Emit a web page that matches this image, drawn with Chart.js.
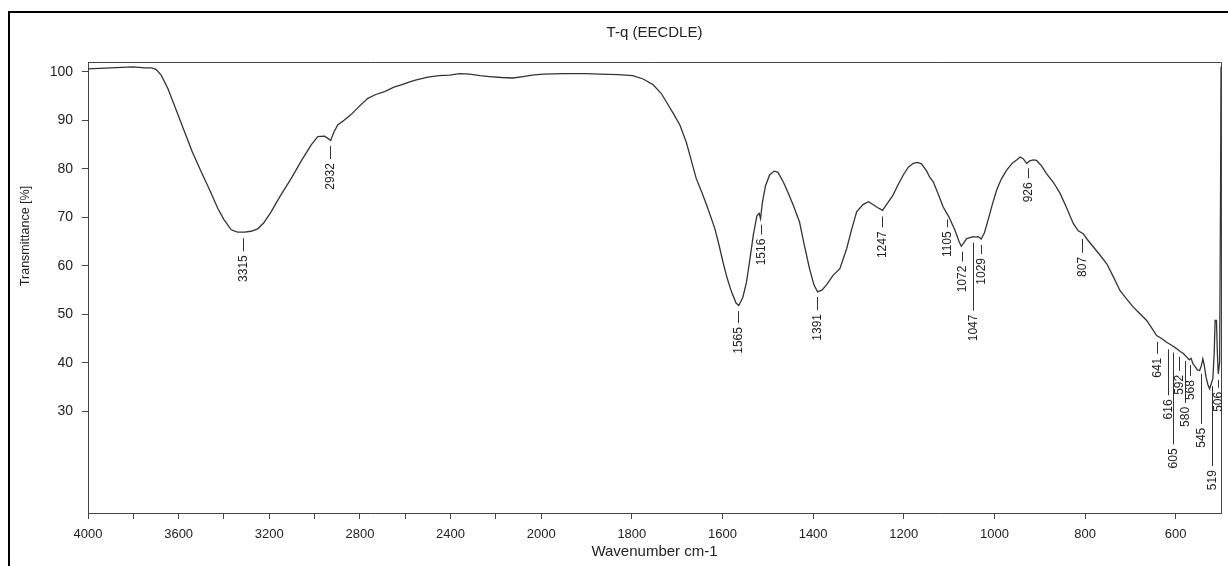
<!DOCTYPE html>
<html>
<head>
<meta charset="utf-8">
<script src="https://cdn.jsdelivr.net/npm/chart.js@4"></script>
<style>
  html, body { margin: 0; padding: 0; background: #fff; overflow: hidden; }
  #wrap { position: relative; width: 1228px; height: 566px; }
  #frame { position: absolute; left: 8px; top: 11px; width: 1300px; height: 700px;
           border: 2px solid #000; box-sizing: border-box; pointer-events: none; }
  canvas { position: absolute; left: 0; top: 0; }
</style>
</head>
<body>
<div id="wrap">
  <canvas id="grafico" width="1228" height="566"></canvas>
  <div id="frame"></div>
</div>
<script>
// Espectro IR (numero de onda cm-1 / transmitancia %)
const wavenumber = [
  4000, 3950, 3900, 3850, 3800, 3750, 3720, 3700, 3677, 3648, 3610, 3574, 3540, 3501, 3460, 3427,
  3400, 3368, 3340, 3309, 3280, 3251, 3225, 3192, 3150, 3103, 3060, 3015, 2986, 2956, 2940, 2929,
  2915, 2898, 2870, 2838, 2800, 2765, 2730, 2691, 2650, 2618, 2580, 2551, 2500, 2450, 2404, 2360,
  2316, 2270, 2228, 2175, 2125, 2080, 2040, 1996, 1950, 1900, 1871, 1830, 1798, 1775, 1753, 1735,
  1724, 1708, 1694, 1680, 1672, 1658, 1645, 1635, 1617, 1607, 1599, 1590, 1580, 1570, 1564, 1555,
  1547, 1540, 1532, 1524, 1519, 1516, 1512, 1505, 1496, 1486, 1478, 1466, 1455, 1444, 1430, 1420,
  1408, 1398, 1390, 1380, 1371, 1356, 1341, 1326, 1315, 1304, 1290, 1278, 1268, 1258, 1247, 1235,
  1224, 1212, 1201, 1190, 1179, 1170, 1161, 1150, 1143, 1135, 1124, 1113, 1105, 1100, 1087, 1078,
  1073, 1067, 1061, 1054, 1047, 1040, 1036, 1029, 1022, 1014, 1005, 995, 985, 973, 960, 951,
  943, 936, 929, 922, 914, 907, 896, 885, 870, 855, 840, 826, 815, 804, 795, 782,
  768, 752, 738, 723, 708, 694, 680, 664, 652, 642, 631, 620, 609, 598, 590, 583,
  576, 570, 566, 562, 557, 552, 547, 543, 540, 537, 533, 529, 525, 521, 518, 515,
  513, 510, 508, 506, 503, 501, 500
];
const transmittance = [
  100.6, 100.7, 100.8, 100.9, 101.0, 100.8, 100.8, 100.5, 99.3, 96.6, 92.0, 87.6, 83.5, 79.4, 75.3, 71.8,
  69.5, 67.4, 66.9, 66.9, 67.1, 67.6, 68.8, 71.1, 74.5, 78.0, 81.5, 84.9, 86.6, 86.7, 86.2, 85.8,
  87.5, 89.0, 90.0, 91.2, 93.0, 94.5, 95.3, 95.9, 96.8, 97.3, 97.9, 98.3, 98.9, 99.2, 99.3, 99.6,
  99.5, 99.2, 99.0, 98.8, 98.7, 99.0, 99.3, 99.5, 99.6, 99.6, 99.5, 99.4, 99.2, 98.5, 97.3, 95.5,
  93.8, 91.3, 89.0, 85.5, 82.8, 78.0, 75.0, 72.5, 67.7, 64.0, 60.8, 57.5, 54.6, 52.3, 51.8, 53.5,
  56.6, 61.0, 66.3, 70.3, 70.8, 69.7, 73.0, 76.5, 78.7, 79.5, 79.3, 77.3, 75.0, 72.5, 69.0, 64.5,
  59.4, 56.0, 54.6, 55.0, 56.0, 58.0, 59.4, 63.5, 67.5, 71.1, 72.6, 73.2, 72.6, 72.0, 71.4, 73.0,
  74.5, 76.8, 78.7, 80.3, 81.1, 81.3, 81.0, 79.6, 78.3, 77.3, 74.8, 72.1, 70.8, 70.0, 67.3, 65.0,
  64.0, 64.8, 65.6, 65.8, 66.0, 65.9, 66.0, 65.5, 66.8, 69.4, 72.5, 75.6, 77.8, 79.7, 81.2, 81.8,
  82.4, 82.0, 81.1, 81.6, 81.8, 81.7, 80.6, 79.0, 77.2, 74.9, 71.8, 68.7, 67.2, 66.6, 65.4, 63.9,
  62.3, 60.4, 57.8, 54.9, 53.1, 51.5, 50.2, 48.7, 47.0, 45.6, 45.0, 44.2, 43.6, 42.9, 42.3, 41.9,
  41.2, 40.6, 40.9, 39.8, 39.2, 38.5, 38.4, 39.5, 40.8, 39.5, 37.0, 35.5, 34.6, 35.8, 36.7, 42.0,
  48.7, 48.7, 42.0, 37.7, 40.0, 75.0, 101.0
];

// Picos marcados y largo de su linea guia
const peakWn   = [3315, 2932, 1565, 1516, 1391, 1247, 1105, 1072, 1047, 1029, 926, 807, 641, 616, 605, 592, 580, 568, 545, 519, 506];
const peakLead = [13, 13, 12, 10, 13, 11, 8, 10, 68, 9, 10, 14, 12, 46, 92, 14, 42, 11, 50, 80, 8];

// Marcas del eje x (cm-1) y las que llevan numero
const xTickWn  = [4000, 3800, 3600, 3400, 3200, 3000, 2800, 2600, 2400, 2200, 2000, 1800, 1600, 1400, 1200, 1000, 800, 600];
const xLabelWn = [4000, 3600, 3200, 2800, 2400, 2000, 1800, 1600, 1400, 1200, 1000, 800, 600];
const yTicks   = [30, 40, 50, 60, 70, 80, 90, 100];

const titulo = 'T-q (EECDLE)';
const tituloX = 'Wavenumber cm-1';
const tituloY = 'Transmittance [%]';

// Escala partida: bajo 2000 cm-1 el eje va al doble
function aPos(wn) {
  return wn >= 2000 ? 4000 - wn : 2000 + 2 * (2000 - wn);
}
function aWn(u) {
  return u <= 2000 ? 4000 - u : 2000 - (u - 2000) / 2;
}
function curvaEn(wn) {
  for (let i = 0; i < wavenumber.length - 1; i++) {
    const a = wavenumber[i], b = wavenumber[i + 1];
    if (wn <= a && wn >= b) {
      const t = (a - wn) / (a - b);
      return transmittance[i] + t * (transmittance[i + 1] - transmittance[i]);
    }
  }
  return transmittance[transmittance.length - 1];
}

const FONT = "'Liberation Sans', Arial, sans-serif";

// Titulos, marco y etiquetas de picos
const decoracion = {
  id: 'decoracion',
  afterDatasetsDraw(chart) {
    const ctx = chart.ctx;
    const xs = chart.scales.x, ys = chart.scales.y;
    const area = chart.chartArea;
    ctx.save();
    ctx.strokeStyle = '#444';
    ctx.lineWidth = 1;
    ctx.beginPath();
    ctx.moveTo(area.left, area.top + 0.5);
    ctx.lineTo(area.right + 0.5, area.top + 0.5);
    ctx.lineTo(area.right + 0.5, area.bottom);
    ctx.stroke();

    ctx.fillStyle = '#222';
    ctx.textAlign = 'center';
    ctx.textBaseline = 'middle';
    ctx.font = '15px ' + FONT;
    ctx.fillText(titulo, (area.left + area.right) / 2, 33);
    ctx.fillText(tituloX, (area.left + area.right) / 2, 552);
    ctx.save();
    ctx.translate(26, 236);
    ctx.rotate(-Math.PI / 2);
    ctx.font = '12.5px ' + FONT;
    ctx.fillText(tituloY, 0, 0);
    ctx.restore();

    ctx.font = '12px ' + FONT;
    ctx.strokeStyle = '#333';
    ctx.fillStyle = '#222';
    peakWn.forEach((wn, i) => {
      const x = Math.round(xs.getPixelForValue(aPos(wn))) + 0.5;
      const y = ys.getPixelForValue(curvaEn(wn));
      const y0 = y + 6, y1 = y0 + peakLead[i];
      ctx.beginPath();
      ctx.moveTo(x, y0);
      ctx.lineTo(x, y1);
      ctx.stroke();
      ctx.save();
      ctx.translate(x, y1 + 4);
      ctx.rotate(-Math.PI / 2);
      ctx.textAlign = 'right';
      ctx.textBaseline = 'middle';
      ctx.fillText(String(wn), 0, 0);
      ctx.restore();
    });
    ctx.restore();
  }
};

window.onload = function () {
  const ctx = document.getElementById('grafico').getContext('2d');
  const puntos = wavenumber.map((wn, i) => ({ x: aPos(wn), y: transmittance[i] }));

  new Chart(ctx, {
    type: 'line',
    data: {
      datasets: [{
        data: puntos,
        borderColor: '#333',
        borderWidth: 1.3,
        pointRadius: 0,
        fill: false,
        tension: 0
      }]
    },
    options: {
      responsive: false,
      animation: false,
      devicePixelRatio: 1,
      layout: { padding: { left: 0, top: 62, right: 7, bottom: 0 } },
      plugins: {
        legend: { display: false },
        tooltip: { enabled: false },
        title: { display: false }
      },
      scales: {
        x: {
          type: 'linear',
          min: 0,
          max: aPos(500),
          afterBuildTicks: s => { s.ticks = xTickWn.map(wn => ({ value: aPos(wn) })); },
          afterFit: s => { s.height = 53; },
          grid: { drawOnChartArea: false, drawTicks: true, tickLength: 6, color: '#444' },
          border: { display: true, color: '#444', width: 1 },
          ticks: {
            autoSkip: false,
            maxRotation: 0,
            padding: 8,
            color: '#222',
            font: { family: FONT, size: 13 },
            callback: v => {
              const wn = Math.round(aWn(v));
              return xLabelWn.includes(wn) ? String(wn) : '';
            }
          }
        },
        y: {
          type: 'linear',
          min: 9,
          max: 102,
          afterBuildTicks: s => { s.ticks = yTicks.map(v => ({ value: v })); },
          afterFit: s => { s.width = 88; },
          grid: { drawOnChartArea: false, drawTicks: true, tickLength: 6, color: '#444' },
          border: { display: true, color: '#444', width: 1 },
          ticks: {
            padding: 9,
            color: '#222',
            font: { family: FONT, size: 14 }
          }
        }
      }
    },
    plugins: [decoracion]
  });
};
</script>
</body>
</html>
